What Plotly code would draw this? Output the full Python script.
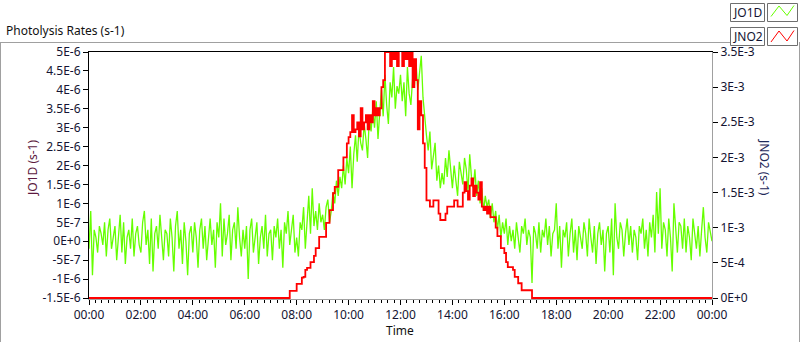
import plotly.graph_objects as go

# ---------------- data ----------------
# JO1D (s-1), in units of 1e-7, one value every 4 minutes from 00:00 (15 per hour)
jo1d_e7 = (
    [-2, 8, -9, 3, 1, -3, 4, 2, -1, 5, -4, 3, 6, -2, 1]          # 00
    + [4, -5, 2, 7, -3, 5, -6, 1, 3, -2, 6, -4, 2, 4, -1]        # 01
    + [-3, 5, 8, -1, 3, -6, 6, -8, 2, 4, -2, 7, 1, -5, 3]        # 02
    + [2, -4, 6, 1, -8, 4, 8, -2, 3, -6, 5, 0, -9, 2, 4]         # 03
    + [-3, 5, 1, -7, 3, 6, -2, 4, -5, 2, 6, -1, 3, -7, 5]        # 04
    + [1, 10, -4, 6, -1, 2, 7, -5, 3, 5, -2, 9, 1, -4, 3]        # 05
    + [-2, 4, -10, 3, 6, -3, 2, 5, -6, 1, 4, -2, 7, -4, 2]       # 06
    + [3, -5, 4, 1, 6, -2, 3, -7, 5, 2, 8, -1, 4, 7, -3]         # 07
    + [1, -4, 5, 3, 9, -2, 6, 12, 2, 14, 4, 8, 3, 10, 5]         # 08
    + [7, 3, 9, 11, 5, 8, 13, 10, 16, 12, 17, 14, 20, 15, 22]    # 09
    + [18, 25, 14, 23, 28, 21, 30, 26, 24, 31, 27, 22, 33, 29, 35]   # 10
    + [30, 37, 27, 34, 40, 33, 44, 36, 31, 42, 38, 46, 35, 41, 39]   # 11
    + [44, 37, 42, 33, 46, 39, 36, 43, 41, 47, 40, 45, 49, 38, 32]   # 12
    + [28, 24, 29, 19, 22, 26, 16, 20, 14, 18, 15, 22, 17, 24, 19]   # 13
    + [14, 20, 16, 12, 21, 18, 15, 22, 19, 13, 23, 17, 14, 19, 12]   # 14
    + [16, 10, 14, 8, 12, 9, 11, 6, 10, 5, 8, 3, 7, 1, 5]            # 15
    + [2, 6, -1, 4, 0, 3, -2, 5, 1, -3, 4, 2, 6, -1, 3]              # 16
    + [1, -11, 4, 2, -2, 5, -3, 3, 1, 6, -1, 4, -4, 2, 3]            # 17
    + [10, -2, 4, -7, 3, 1, 5, -4, 2, 6, -3, 3, -5, 4, 1]            # 18
    + [-2, 5, 2, -4, 6, 1, -3, 4, -6, 2, 5, -1, 3, -8, 2]            # 19
    + [4, -3, 6, -9, 10, 1, -2, 5, 3, -4, 2, 6, -1, 4, -3]           # 20
    + [3, 1, -5, 4, 2, 6, -2, 3, -4, 5, 1, 7, -3, 13, 2]             # 21
    + [14, -2, 5, 3, -4, 6, 1, -8, 10, 2, -3, 5, 4, -2, 6]           # 22
    + [-3, 4, 1, -5, 6, 2, -2, 4, -4, 3, 9, 1, -3, 5, 2]             # 23
    + [0]                                                            # 24:00
)

# JNO2 (s-1), in units of 1e-4, one value every 4 minutes from 07:40 (zero outside)
jno2_start_hour = 7 + 40 / 60
jno2_e4 = (
    [0, 1, 1, 1, 1]                                                              # 07:40-07:56
    + [2, 2, 2, 2.9, 3, 4, 4.3, 4.3, 5.1, 5.1, 6, 7.1, 7.1, 8.7, 8.7]             # 08
    + [8.7, 8.7, 10.7, 10.7, 12.5, 12.5, 14.9, 15.8, 15.8, 18.2, 18.2, 18.2, 20, 20, 22]  # 09
    + [22.9, 23.6, 26, 23.6, 24, 25, 23, 27, 24, 25, 26, 24, 26, 25, 28]         # 10
    + [26, 27, 26, 27, 30, 31, 36, 35, 37, 33, 36, 34, 37, 33, 36]               # 11
    + [36, 33, 35, 34, 36, 33, 35, 30, 34, 31, 24, 28, 26, 22, 18.5]             # 12
    + [13.9, 13.9, 13, 13, 13.9, 13.9, 13.9, 12, 11.1, 11.1, 11.1, 12, 13, 13, 13]  # 13
    + [13, 13.9, 13.9, 13, 13, 13, 15, 16.5, 15.2, 14, 16, 17, 14.5, 16, 15]     # 14
    + [14, 16.5, 13, 12.5, 13, 12, 13, 11.5, 11.5, 11.5, 10, 8.8, 8.8, 7.1, 7.1]  # 15
    + [6.4, 5.1, 4.4, 4.4, 4.4, 4, 3, 3, 2.1, 2.1, 1.1, 1.1, 1.1, 1.1, 1.1]      # 16
    + [1.1, 0]                                                                   # 17:00-17:04
)

x_tick_hours = list(range(0, 25, 2))
x_tick_labels = ["00:00", "02:00", "04:00", "06:00", "08:00", "10:00", "12:00",
                 "14:00", "16:00", "18:00", "20:00", "22:00", "00:00"]
y1_tick_vals = [5e-6, 4.5e-6, 4e-6, 3.5e-6, 3e-6, 2.5e-6, 2e-6, 1.5e-6, 1e-6,
                5e-7, 0, -5e-7, -1e-6, -1.5e-6]
y1_tick_labels = ["5E-6", "4.5E-6", "4E-6", "3.5E-6", "3E-6", "2.5E-6", "2E-6",
                  "1.5E-6", "1E-6", "5E-7", "0E+0", "-5E-7", "-1E-6", "-1.5E-6"]
y2_tick_vals = [3.5e-3, 3e-3, 2.5e-3, 2e-3, 1.5e-3, 1e-3, 5e-4, 0]
y2_tick_labels = ["3.5E-3", "3E-3", "2.5E-3", "2E-3", "1.5E-3", "1E-3", "5E-4", "0E+0"]

# ---------------- build series ----------------
t_green = [i * 4 / 60 for i in range(len(jo1d_e7))]
y_green = [v * 1e-7 for v in jo1d_e7]

t_red = [0.0] + [jno2_start_hour + k * 4 / 60 for k in range(len(jno2_e4))] + [24.0]
y_red = [0.0] + [v * 1e-4 for v in jno2_e4] + [0.0]

# ---------------- geometry helpers (pixels -> paper) ----------------
W, H = 800, 342
L, R, T, B = 89, 712, 52, 299


def px(x):
    return (x - L) / (R - L)


def py(y):
    return (B - y) / (B - T)


FONT = "Noto Sans"

fig = go.Figure()
fig.add_trace(go.Scatter(x=t_green, y=y_green, mode="lines", name="JO1D",
                         line=dict(color="#66ff00", width=1.3), yaxis="y",
                         showlegend=False, hoverinfo="skip"))
fig.add_trace(go.Scatter(x=t_red, y=y_red, mode="lines", name="JNO2",
                         line=dict(color="#ff0000", width=1.8, shape="hv"), yaxis="y2",
                         showlegend=False, hoverinfo="skip"))

px_per_1 = 1 / 246.0
fig.update_layout(
    width=W, height=H,
    margin=dict(l=L, r=W - R, t=T, b=H - B, autoexpand=False),
    paper_bgcolor="white", plot_bgcolor="white",
    font=dict(family=FONT, size=12, color="#111111"),
    xaxis=dict(range=[0, 24], tickvals=x_tick_hours, ticktext=x_tick_labels,
               ticks="outside", ticklen=5, tickcolor="#000000", tickwidth=1,
               minor=dict(ticks="outside", ticklen=3, dtick=0.25, tickcolor="#000000"),
               showgrid=False, zeroline=False, showline=False,
               tickfont=dict(family=FONT, size=12, color="#141432")),
    yaxis=dict(range=[-1.5e-6 - 6.5e-6 * px_per_1, 5e-6], tickvals=y1_tick_vals,
               ticktext=y1_tick_labels, ticks="outside", ticklen=5,
               tickcolor="#000000", showgrid=False, zeroline=False, showline=False,
               tickfont=dict(family=FONT, size=12, color="#141432")),
    yaxis2=dict(range=[-3.5e-3 * px_per_1, 3.5e-3], tickvals=y2_tick_vals,
                ticktext=y2_tick_labels, overlaying="y", side="right",
                ticks="outside", ticklen=5, tickcolor="#000000",
                showgrid=False, zeroline=False, showline=False,
                tickfont=dict(family=FONT, size=12, color="#141432")),
)

gray = "#a0a0a0"
shapes = [
    # outer frame
    dict(type="line", xref="paper", yref="paper", x0=px(0), x1=px(730), y0=py(42.5), y1=py(42.5),
         line=dict(color=gray, width=1)),
    dict(type="line", xref="paper", yref="paper", x0=px(0.5), x1=px(0.5), y0=py(42), y1=py(345),
         line=dict(color=gray, width=1)),
    dict(type="line", xref="paper", yref="paper", x0=px(799.5), x1=px(799.5), y0=py(42), y1=py(345),
         line=dict(color=gray, width=1)),
    # plot frame
    dict(type="line", xref="paper", yref="paper", x0=px(88), x1=px(713), y0=py(51.5), y1=py(51.5),
         line=dict(color="#000000", width=1)),
    dict(type="line", xref="paper", yref="paper", x0=px(88.5), x1=px(88.5), y0=py(51), y1=py(299.5),
         line=dict(color="#000000", width=1)),
    dict(type="line", xref="paper", yref="paper", x0=px(712.5), x1=px(712.5), y0=py(52), y1=py(299.5),
         line=dict(color=gray, width=1)),
    dict(type="line", xref="paper", yref="paper", x0=px(88), x1=px(713), y0=py(299.5), y1=py(299.5),
         line=dict(color=gray, width=1)),
]

# legend boxes
for (x0, y0, x1, y1) in [(730, 3, 764, 21), (767, 3, 797, 21), (730, 27, 764, 45), (767, 27, 797, 45)]:
    shapes.append(dict(type="rect", xref="paper", yref="paper",
                       x0=px(x0 + 0.5), x1=px(x1 + 0.5), y0=py(y0 + 0.5), y1=py(y1 + 0.5),
                       line=dict(color="#6e6e6e", width=1), fillcolor="white"))


def zig(points):
    d = "M " + " L ".join(f"{px(a):.5f},{py(b):.5f}" for a, b in points)
    return d


shapes.append(dict(type="path", xref="paper", yref="paper",
                   path=zig([(771, 16.5), (779, 6), (787, 15.5), (794, 5.5)]),
                   line=dict(color="#66ff00", width=1)))
shapes.append(dict(type="path", xref="paper", yref="paper",
                   path=zig([(771, 42), (779, 31), (787, 41), (794, 30.5)]),
                   line=dict(color="#ff0000", width=1)))

fig.update_layout(shapes=shapes)

ann = [
    dict(text="Photolysis Rates (s-1)", x=px(4), y=py(30), xanchor="left", yanchor="middle",
         font=dict(size=12, color="#111111")),
    dict(text="Time", x=px(400), y=py(330), xanchor="center", yanchor="middle",
         font=dict(size=12, color="#111111")),
    dict(text="JO1D (s-1)", x=px(32), y=py(168), xanchor="center", yanchor="middle",
         textangle=-90, font=dict(size=12, color="#5c1a40")),
    dict(text="JNO2 (s-1)", x=px(765), y=py(167), xanchor="center", yanchor="middle",
         textangle=90, font=dict(size=12, color="#1f2a5a")),
    dict(text="JO1D", x=px(747.5), y=py(12.5), xanchor="center", yanchor="middle",
         font=dict(size=12, color="#141432")),
    dict(text="JNO2", x=px(747.5), y=py(36.5), xanchor="center", yanchor="middle",
         font=dict(size=12, color="#141432")),
]
for a in ann:
    a.update(xref="paper", yref="paper", showarrow=False)
fig.update_layout(annotations=ann)

fig.write_html(
    "out.html",
    config={"displayModeBar": False},
    post_script="document.body.style.margin='0';document.body.style.padding='0';"
                "document.body.style.overflow='hidden';",
)
